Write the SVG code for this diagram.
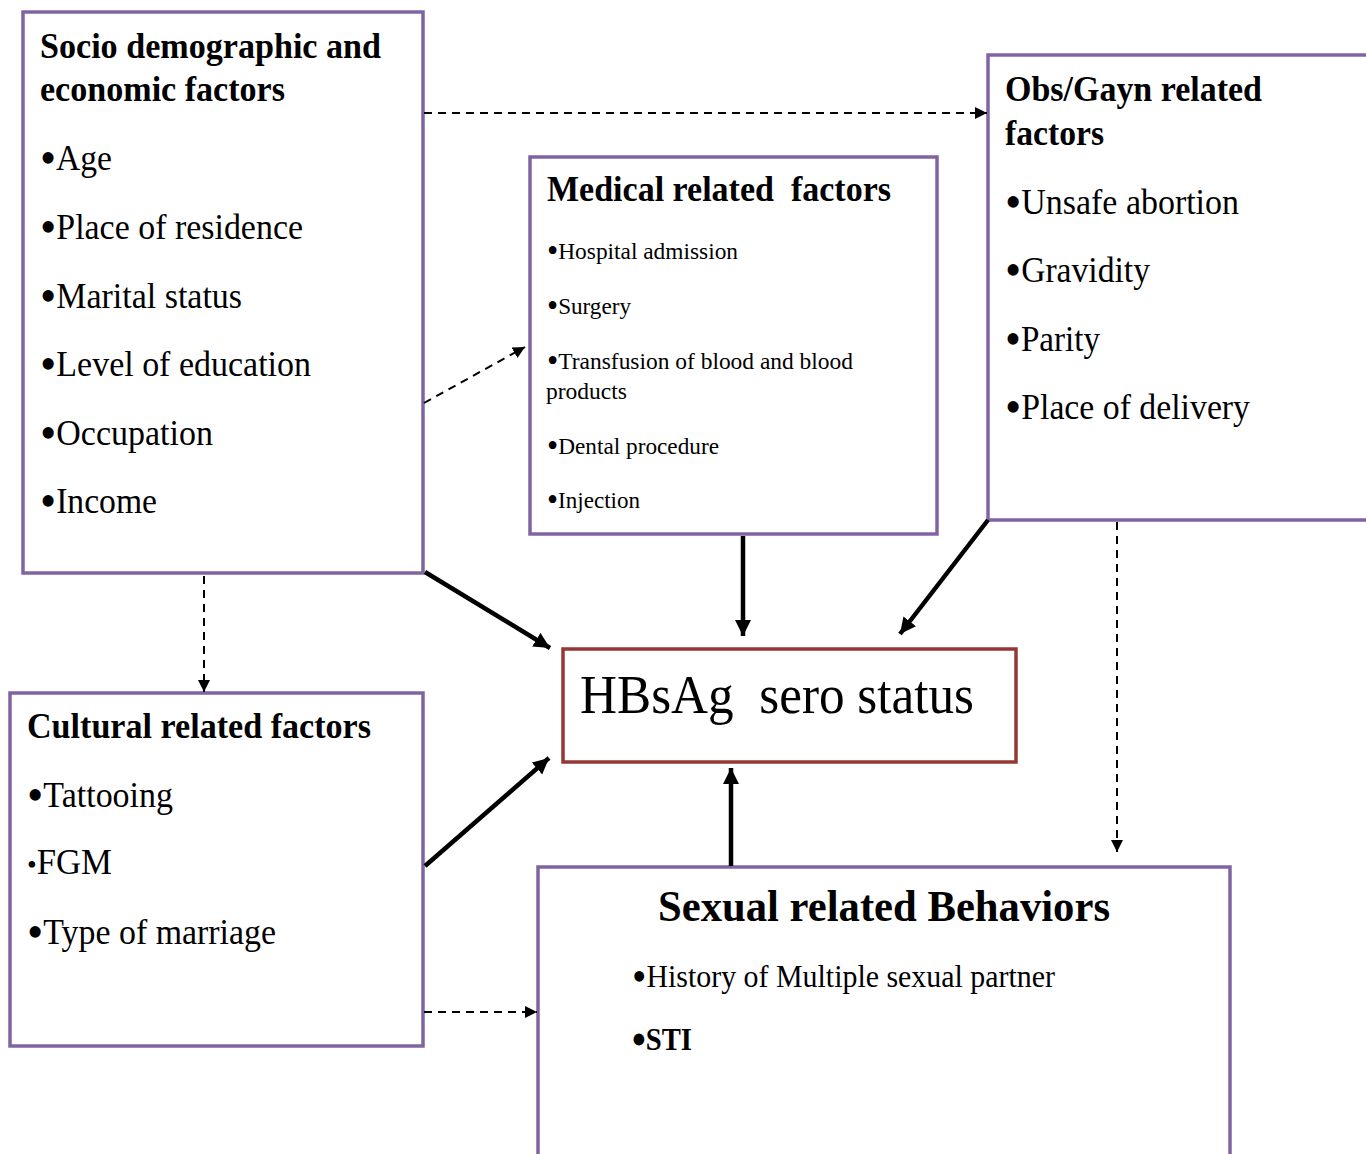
<svg xmlns="http://www.w3.org/2000/svg" width="1366" height="1154" viewBox="0 0 1366 1154">
<style>
.box{fill:#fff;stroke:#8064A2;stroke-width:3.5}
.hb{fill:#fff;stroke:#953735;stroke-width:3.5}
text{font-family:"Liberation Serif","Times New Roman",serif;fill:#000;white-space:pre}
.t{font-weight:bold;font-size:36px}
.i{font-size:35px}
.s{font-size:24px}
.bi{font-size:48px}
.bs{font-size:33px}
.solid{stroke:#000;stroke-width:4.5;fill:none}
.dash{stroke:#000;stroke-width:2;stroke-dasharray:8 6;fill:none}
</style>
<defs>
<marker id="ah" markerUnits="userSpaceOnUse" markerWidth="18" markerHeight="18" refX="16" refY="8" orient="auto"><path d="M0,0 L16,8 L0,16 z" fill="#000"/></marker>
<marker id="ad" markerUnits="userSpaceOnUse" markerWidth="14" markerHeight="14" refX="12" refY="6" orient="auto"><path d="M0,0 L12,6 L0,12 z" fill="#000"/></marker>
</defs>
<rect width="1366" height="1154" fill="#fff"/>
<g id="socio">
<rect class="box" x="23" y="12" width="400" height="561"/>
<text class="t" x="40" y="58" textLength="341" lengthAdjust="spacingAndGlyphs">Socio demographic and</text>
<text class="t" x="40" y="101" textLength="245" lengthAdjust="spacingAndGlyphs">economic factors</text>
<text class="i" x="40" y="170" textLength="72" lengthAdjust="spacingAndGlyphs"><tspan class="bi" dy="4">•</tspan><tspan dy="-4">Age</tspan></text>
<text class="i" x="40" y="239" textLength="263" lengthAdjust="spacingAndGlyphs"><tspan class="bi" dy="4">•</tspan><tspan dy="-4">Place of residence</tspan></text>
<text class="i" x="40" y="308" textLength="202" lengthAdjust="spacingAndGlyphs"><tspan class="bi" dy="4">•</tspan><tspan dy="-4">Marital status</tspan></text>
<text class="i" x="40" y="376" textLength="271" lengthAdjust="spacingAndGlyphs"><tspan class="bi" dy="4">•</tspan><tspan dy="-4">Level of education</tspan></text>
<text class="i" x="40" y="445" textLength="173" lengthAdjust="spacingAndGlyphs"><tspan class="bi" dy="4">•</tspan><tspan dy="-4">Occupation</tspan></text>
<text class="i" x="40" y="513" textLength="117" lengthAdjust="spacingAndGlyphs"><tspan class="bi" dy="4">•</tspan><tspan dy="-4">Income</tspan></text>
</g>
<g id="medical">
<rect class="box" x="530" y="157" width="407" height="377"/>
<text class="t" x="547" y="201" textLength="344" lengthAdjust="spacingAndGlyphs">Medical related  factors</text>
<text class="s" x="547" y="259" textLength="191" lengthAdjust="spacingAndGlyphs"><tspan class="bs" dy="3">•</tspan><tspan dy="-3">Hospital admission</tspan></text>
<text class="s" x="547" y="314" textLength="84" lengthAdjust="spacingAndGlyphs"><tspan class="bs" dy="3">•</tspan><tspan dy="-3">Surgery</tspan></text>
<text class="s" x="547" y="369" textLength="306" lengthAdjust="spacingAndGlyphs"><tspan class="bs" dy="3">•</tspan><tspan dy="-3">Transfusion of blood and blood</tspan></text>
<text class="s" x="546" y="399" textLength="81" lengthAdjust="spacingAndGlyphs">products</text>
<text class="s" x="547" y="454" textLength="172" lengthAdjust="spacingAndGlyphs"><tspan class="bs" dy="3">•</tspan><tspan dy="-3">Dental procedure</tspan></text>
<text class="s" x="547" y="508" textLength="93" lengthAdjust="spacingAndGlyphs"><tspan class="bs" dy="3">•</tspan><tspan dy="-3">Injection</tspan></text>
</g>
<g id="obs">
<rect class="box" x="988" y="55" width="390" height="465"/>
<text class="t" x="1005" y="101" textLength="257" lengthAdjust="spacingAndGlyphs">Obs/Gayn related</text>
<text class="t" x="1005" y="145" textLength="99" lengthAdjust="spacingAndGlyphs">factors</text>
<text class="i" x="1005" y="214" textLength="234" lengthAdjust="spacingAndGlyphs"><tspan class="bi" dy="4">•</tspan><tspan dy="-4">Unsafe abortion</tspan></text>
<text class="i" x="1005" y="282" textLength="145" lengthAdjust="spacingAndGlyphs"><tspan class="bi" dy="4">•</tspan><tspan dy="-4">Gravidity</tspan></text>
<text class="i" x="1005" y="351" textLength="95" lengthAdjust="spacingAndGlyphs"><tspan class="bi" dy="4">•</tspan><tspan dy="-4">Parity</tspan></text>
<text class="i" x="1005" y="419" textLength="245" lengthAdjust="spacingAndGlyphs"><tspan class="bi" dy="4">•</tspan><tspan dy="-4">Place of delivery</tspan></text>
</g>
<g id="hbsag">
<rect class="hb" x="563" y="649" width="453" height="113"/>
<text x="580" y="713" font-size="54" textLength="394" lengthAdjust="spacingAndGlyphs">HBsAg  sero status</text>
</g>
<g id="cultural">
<rect class="box" x="10" y="693" width="413" height="353"/>
<text class="t" x="27" y="738" textLength="344" lengthAdjust="spacingAndGlyphs">Cultural related factors</text>
<text class="i" x="27" y="807" textLength="146" lengthAdjust="spacingAndGlyphs"><tspan class="bi" dy="4">•</tspan><tspan dy="-4">Tattooing</tspan></text>
<text class="i" x="27" y="874" textLength="85" lengthAdjust="spacingAndGlyphs"><tspan font-size="28">•</tspan>FGM</text>
<text class="i" x="27" y="944" textLength="249" lengthAdjust="spacingAndGlyphs"><tspan class="bi" dy="4">•</tspan><tspan dy="-4">Type of marriage</tspan></text>
</g>
<g id="sexual">
<rect class="box" x="538" y="867" width="692" height="300"/>
<text x="658" y="921" font-size="44" font-weight="bold" textLength="452" lengthAdjust="spacingAndGlyphs">Sexual related Behaviors</text>
<text x="632" y="987" font-size="32" textLength="423" lengthAdjust="spacingAndGlyphs"><tspan font-size="44" dy="4">•</tspan><tspan dy="-4">History of Multiple sexual partner</tspan></text>
<text x="632" y="1050" font-size="32" font-weight="bold" textLength="60" lengthAdjust="spacingAndGlyphs"><tspan font-size="44" dy="4">•</tspan><tspan dy="-4">STI</tspan></text>
</g>
<g id="connectors">
<line class="dash" x1="424" y1="113" x2="987" y2="113" marker-end="url(#ad)"/>
<line class="dash" x1="424" y1="403" x2="525" y2="347" marker-end="url(#ad)"/>
<line class="dash" x1="204" y1="576" x2="204" y2="692" marker-end="url(#ad)"/>
<line class="dash" x1="1117" y1="522" x2="1117" y2="852" marker-end="url(#ad)"/>
<line class="dash" x1="424" y1="1012" x2="537" y2="1012" marker-end="url(#ad)"/>
<line class="solid" x1="425" y1="572" x2="550" y2="648" marker-end="url(#ah)"/>
<line class="solid" x1="743" y1="536" x2="743" y2="636" marker-end="url(#ah)"/>
<line class="solid" x1="988" y1="520" x2="900" y2="634" marker-end="url(#ah)"/>
<line class="solid" x1="425" y1="866" x2="549" y2="758" marker-end="url(#ah)"/>
<line class="solid" x1="731" y1="866" x2="731" y2="768" marker-end="url(#ah)"/>
</g>
</svg>
